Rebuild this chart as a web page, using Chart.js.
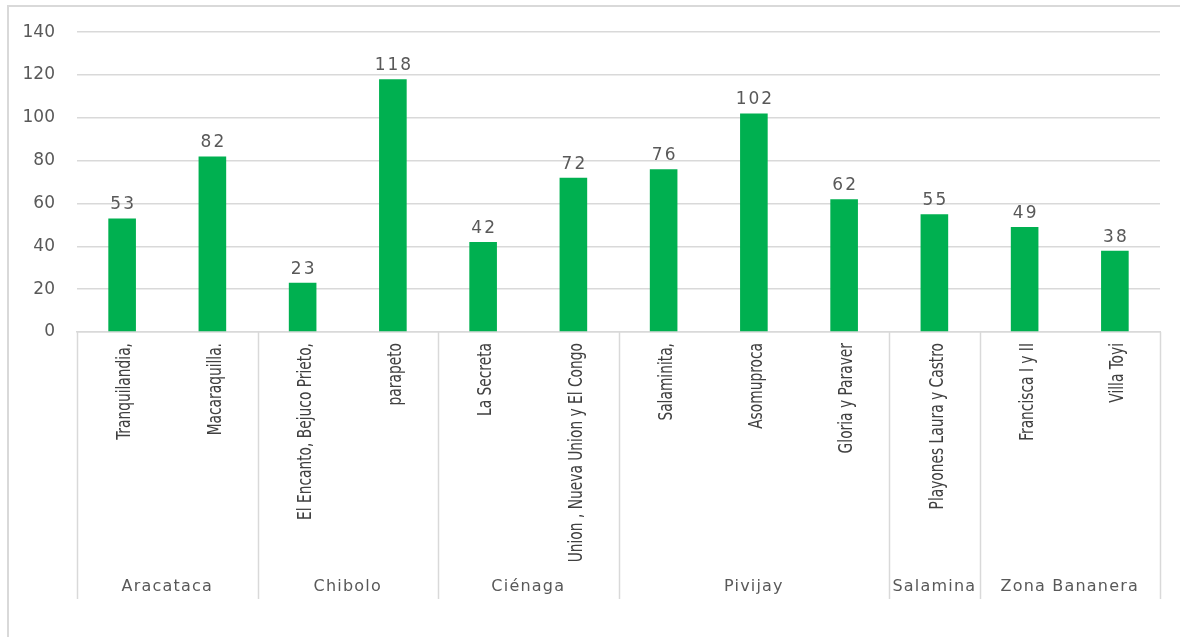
<!DOCTYPE html>
<html>
<head>
<meta charset="utf-8">
<script src="https://cdn.jsdelivr.net/npm/chart.js@4.4.1/dist/chart.umd.min.js"></script>
<style>
html,body{margin:0;padding:0;background:#fff;}
#wrap{position:relative;width:1180px;height:637px;}
</style>
</head>
<body>
<div id="wrap"><canvas id="c" width="1180" height="637"></canvas></div>
<script>
const categories = ["Tranquilandia,", "Macaraquilla.", "El Encanto, Bejuco Prieto,", "parapeto", "La Secreta", "Union , Nueva Union y El Congo", "Salaminita,", "Asomuproca", "Gloria y Paraver", "Playones Laura y Castro", "Francisca I y II", "Villa Toyi"];
const values = [53, 82, 23, 118, 42, 72, 76, 102, 62, 55, 49, 38];
const groupNames = ["Aracataca", "Chibolo", "Ciénaga", "Pivijay", "Salamina", "Zona Bananera"];
const groupSizes = [2, 2, 2, 3, 1, 2];
const yTicks = [0, 20, 40, 60, 80, 100, 120, 140];

const GRAY = '#595959';
const LINE = '#d9d9d9';
const CAT_FONT = '20px "Liberation Sans Narrow", "DejaVu Sans Condensed", sans-serif';

const framePlugin = {
  id: 'frame',
  beforeDraw(chart) {
    const ctx = chart.ctx;
    ctx.save();
    ctx.strokeStyle = LINE;
    ctx.lineWidth = 2;
    ctx.beginPath();
    ctx.moveTo(8, 637);
    ctx.lineTo(8, 6);
    ctx.lineTo(1180, 6);
    ctx.stroke();
    ctx.restore();
  }
};

const catLabelPlugin = {
  id: 'catLabels',
  afterDraw(chart) {
    const ctx = chart.ctx;
    const x = chart.scales.x;
    const top = chart.chartArea.bottom + 11;
    ctx.save();
    ctx.font = CAT_FONT;
    ctx.fillStyle = '#404040';
    const refW = ctx.measureText(categories[2]).width;
    const k = 177 / refW;
    ctx.textAlign = 'right';
    ctx.textBaseline = 'middle';
    categories.forEach((lab, i) => {
      const px = x.getPixelForValue(i) + 3;
      ctx.save();
      ctx.translate(px, top);
      ctx.rotate(-Math.PI / 2);
      ctx.scale(k, 1);
      ctx.fillText(lab, 0, 0);
      ctx.restore();
    });
    ctx.restore();
  }
};

const groupPlugin = {
  id: 'groups',
  afterDraw(chart) {
    const ctx = chart.ctx;
    const x = chart.scales.x;
    const area = chart.chartArea;
    const half = (x.getPixelForValue(1) - x.getPixelForValue(0)) / 2;
    const bottom = x.bottom;
    ctx.save();
    ctx.strokeStyle = LINE;
    ctx.lineWidth = 1.5;
    let idx = 0;
    const bounds = [0];
    groupSizes.forEach(s => { idx += s; bounds.push(idx); });
    bounds.forEach(b => {
      const px = Math.round(x.getPixelForValue(b) - half) + 0.5;
      ctx.beginPath();
      ctx.moveTo(px, area.bottom);
      ctx.lineTo(px, bottom);
      ctx.stroke();
    });
    ctx.fillStyle = GRAY;
    ctx.font = '16px "DejaVu Sans", sans-serif';
    try { ctx.letterSpacing = '1.2px'; } catch (e) {}
    ctx.textAlign = 'center';
    ctx.textBaseline = 'middle';
    for (let g = 0; g < groupNames.length; g++) {
      const l = x.getPixelForValue(bounds[g]) - half;
      const r = x.getPixelForValue(bounds[g + 1]) - half;
      ctx.fillText(groupNames[g], (l + r) / 2, bottom - 12);
    }
    ctx.restore();
  }
};

const valuePlugin = {
  id: 'values',
  afterDatasetsDraw(chart) {
    const ctx = chart.ctx;
    const meta = chart.getDatasetMeta(0);
    ctx.save();
    ctx.fillStyle = GRAY;
    ctx.font = '17px "DejaVu Sans", sans-serif';
    try { ctx.letterSpacing = '2px'; } catch (e) {}
    ctx.textAlign = 'center';
    ctx.textBaseline = 'bottom';
    meta.data.forEach((bar, i) => {
      ctx.fillText(String(values[i]), bar.x + 1, bar.y - 5);
    });
    ctx.restore();
  }
};

new Chart(document.getElementById('c'), {
  type: 'bar',
  data: {
    labels: categories,
    datasets: [{
      data: values,
      backgroundColor: '#00B050',
      borderWidth: 0,
      barPercentage: 0.306,
      categoryPercentage: 1.0
    }]
  },
  options: {
    responsive: false,
    animation: false,
    devicePixelRatio: 1,
    layout: { padding: { top: 30, right: 20, bottom: 38, left: 0 } },
    plugins: { legend: { display: false }, tooltip: { enabled: false } },
    scales: {
      x: {
        grid: { display: false, drawTicks: false },
        border: { display: true, color: LINE, width: 1.5 },
        ticks: { display: false },
        afterFit(scale) { scale.height = 267; }
      },
      y: {
        min: 0,
        max: 140,
        afterBuildTicks(scale) { scale.ticks = yTicks.map(v => ({ value: v })); },
        grid: { color: LINE, lineWidth: 1.5, drawTicks: false },
        border: { display: false },
        ticks: {
          padding: 22,
          color: GRAY,
          font: { family: '"DejaVu Sans", sans-serif', size: 17 }
        },
        afterFit(scale) { scale.width = 77; }
      }
    }
  },
  plugins: [framePlugin, catLabelPlugin, groupPlugin, valuePlugin]
});
</script>
</body>
</html>
